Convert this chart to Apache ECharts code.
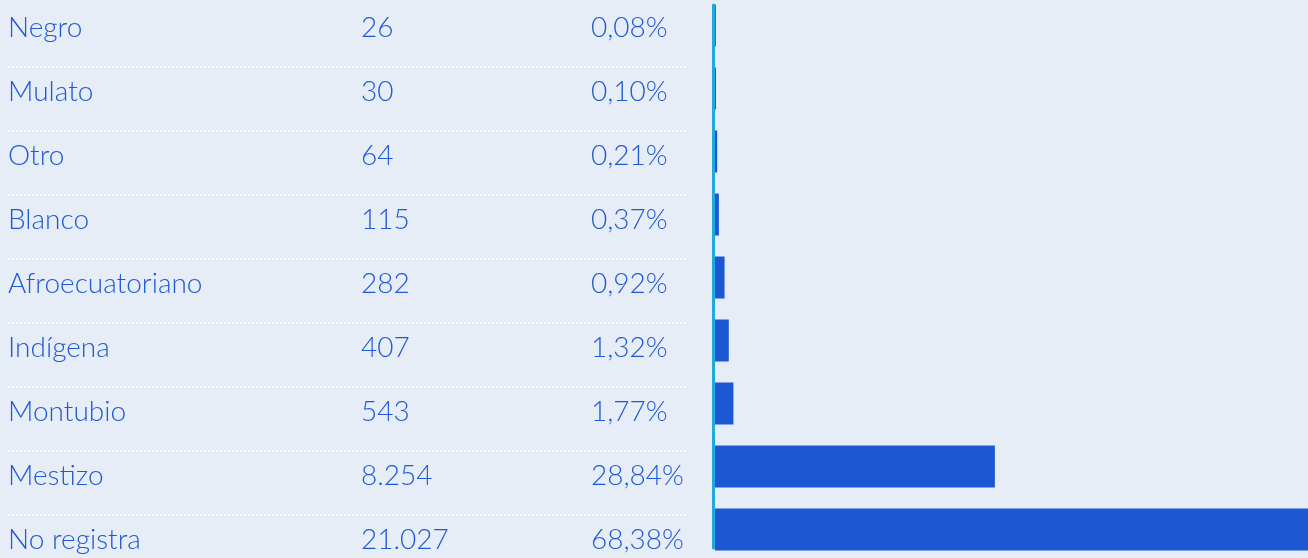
<!DOCTYPE html>
<html>
<head>
<meta charset="utf-8">
<script src="https://cdn.jsdelivr.net/npm/echarts@6/dist/echarts.min.js"></script>
<style>
    html, body { margin: 0; padding: 0; background: #e6edf7; }
    #chart { width: 1308px; height: 558px; }
</style>
</head>
<body>
<div id="chart"></div>
<script>
    // datos
    const categories = ['Negro', 'Mulato', 'Otro', 'Blanco', 'Afroecuatoriano', 'Indígena', 'Montubio', 'Mestizo', 'No registra'];
    const counts = [26, 30, 64, 115, 282, 407, 543, 8254, 21027];
    const percents = [0.08, 0.10, 0.21, 0.37, 0.92, 1.32, 1.77, 28.84, 68.38];

    const TEXT_COLOR = '#1f5ad6';
    const FONT = 'Lato';

    function fmtCount(v) {
        return String(v).replace(/\B(?=(\d{3})+(?!\d))/g, '.');
    }

    function fmtPct(v) {
        return v.toFixed(2).replace('.', ',') + '%';
    }

    let chart = echarts.init(document.getElementById('chart'));
    let option = {
        backgroundColor: '#e6edf7',
        animation: false,
        grid: [
            // barras (se salen del lienzo a la derecha y abajo)
            {left: 715, top: -6, width: 713, height: 567, outerBoundsMode: 'none'},
            // tabla
            {left: 8, top: 3, width: 680, height: 576, outerBoundsMode: 'none'},
            // línea vertical
            {left: 713.5, top: 5, width: 10, height: 543, outerBoundsMode: 'none'}
        ],
        xAxis: [
            {gridIndex: 0, type: 'value', min: 0, max: 'dataMax', show: false},
            {gridIndex: 1, type: 'value', show: false},
            {gridIndex: 2, type: 'value', show: false}
        ],
        yAxis: [
            {
                gridIndex: 0,
                type: 'category',
                inverse: true,
                data: categories,
                axisLine: {show: false},
                axisTick: {show: false},
                axisLabel: {show: false}
            },
            {
                gridIndex: 1,
                type: 'category',
                inverse: true,
                data: categories,
                axisLine: {show: false},
                axisTick: {show: false},
                splitLine: {
                    show: true,
                    showMinLine: false,
                    lineStyle: {color: '#ffffff', width: 2, type: [2, 2]}
                },
                axisLabel: {
                    inside: true,
                    margin: 0,
                    align: 'left',
                    padding: [0, 0, 14, 0],
                    formatter: (value, idx) => '{n|' + value + '}{c|' + fmtCount(counts[idx]) + '}{p|' + fmtPct(percents[idx]) + '}',
                    rich: {
                        n: {width: 353, fontSize: 28, fontWeight: 300, fontFamily: FONT, color: TEXT_COLOR},
                        c: {width: 230, fontSize: 28, fontWeight: 300, fontFamily: FONT, color: TEXT_COLOR},
                        p: {fontSize: 28, fontWeight: 300, fontFamily: FONT, color: TEXT_COLOR}
                    }
                }
            },
            {
                gridIndex: 2,
                type: 'category',
                data: [''],
                axisLine: {show: true, lineStyle: {color: '#22a9dc', width: 3}},
                axisTick: {show: false},
                axisLabel: {show: false}
            }
        ],
        series: [
            {
                type: 'bar',
                xAxisIndex: 0,
                yAxisIndex: 0,
                data: counts,
                barWidth: 42,
                z: 5,
                itemStyle: {color: '#1c58d3'}
            }
        ]
    };
    chart.setOption(option);

    window.addEventListener('resize', function () {
        chart.resize();
    });
</script>
</body>
</html>
